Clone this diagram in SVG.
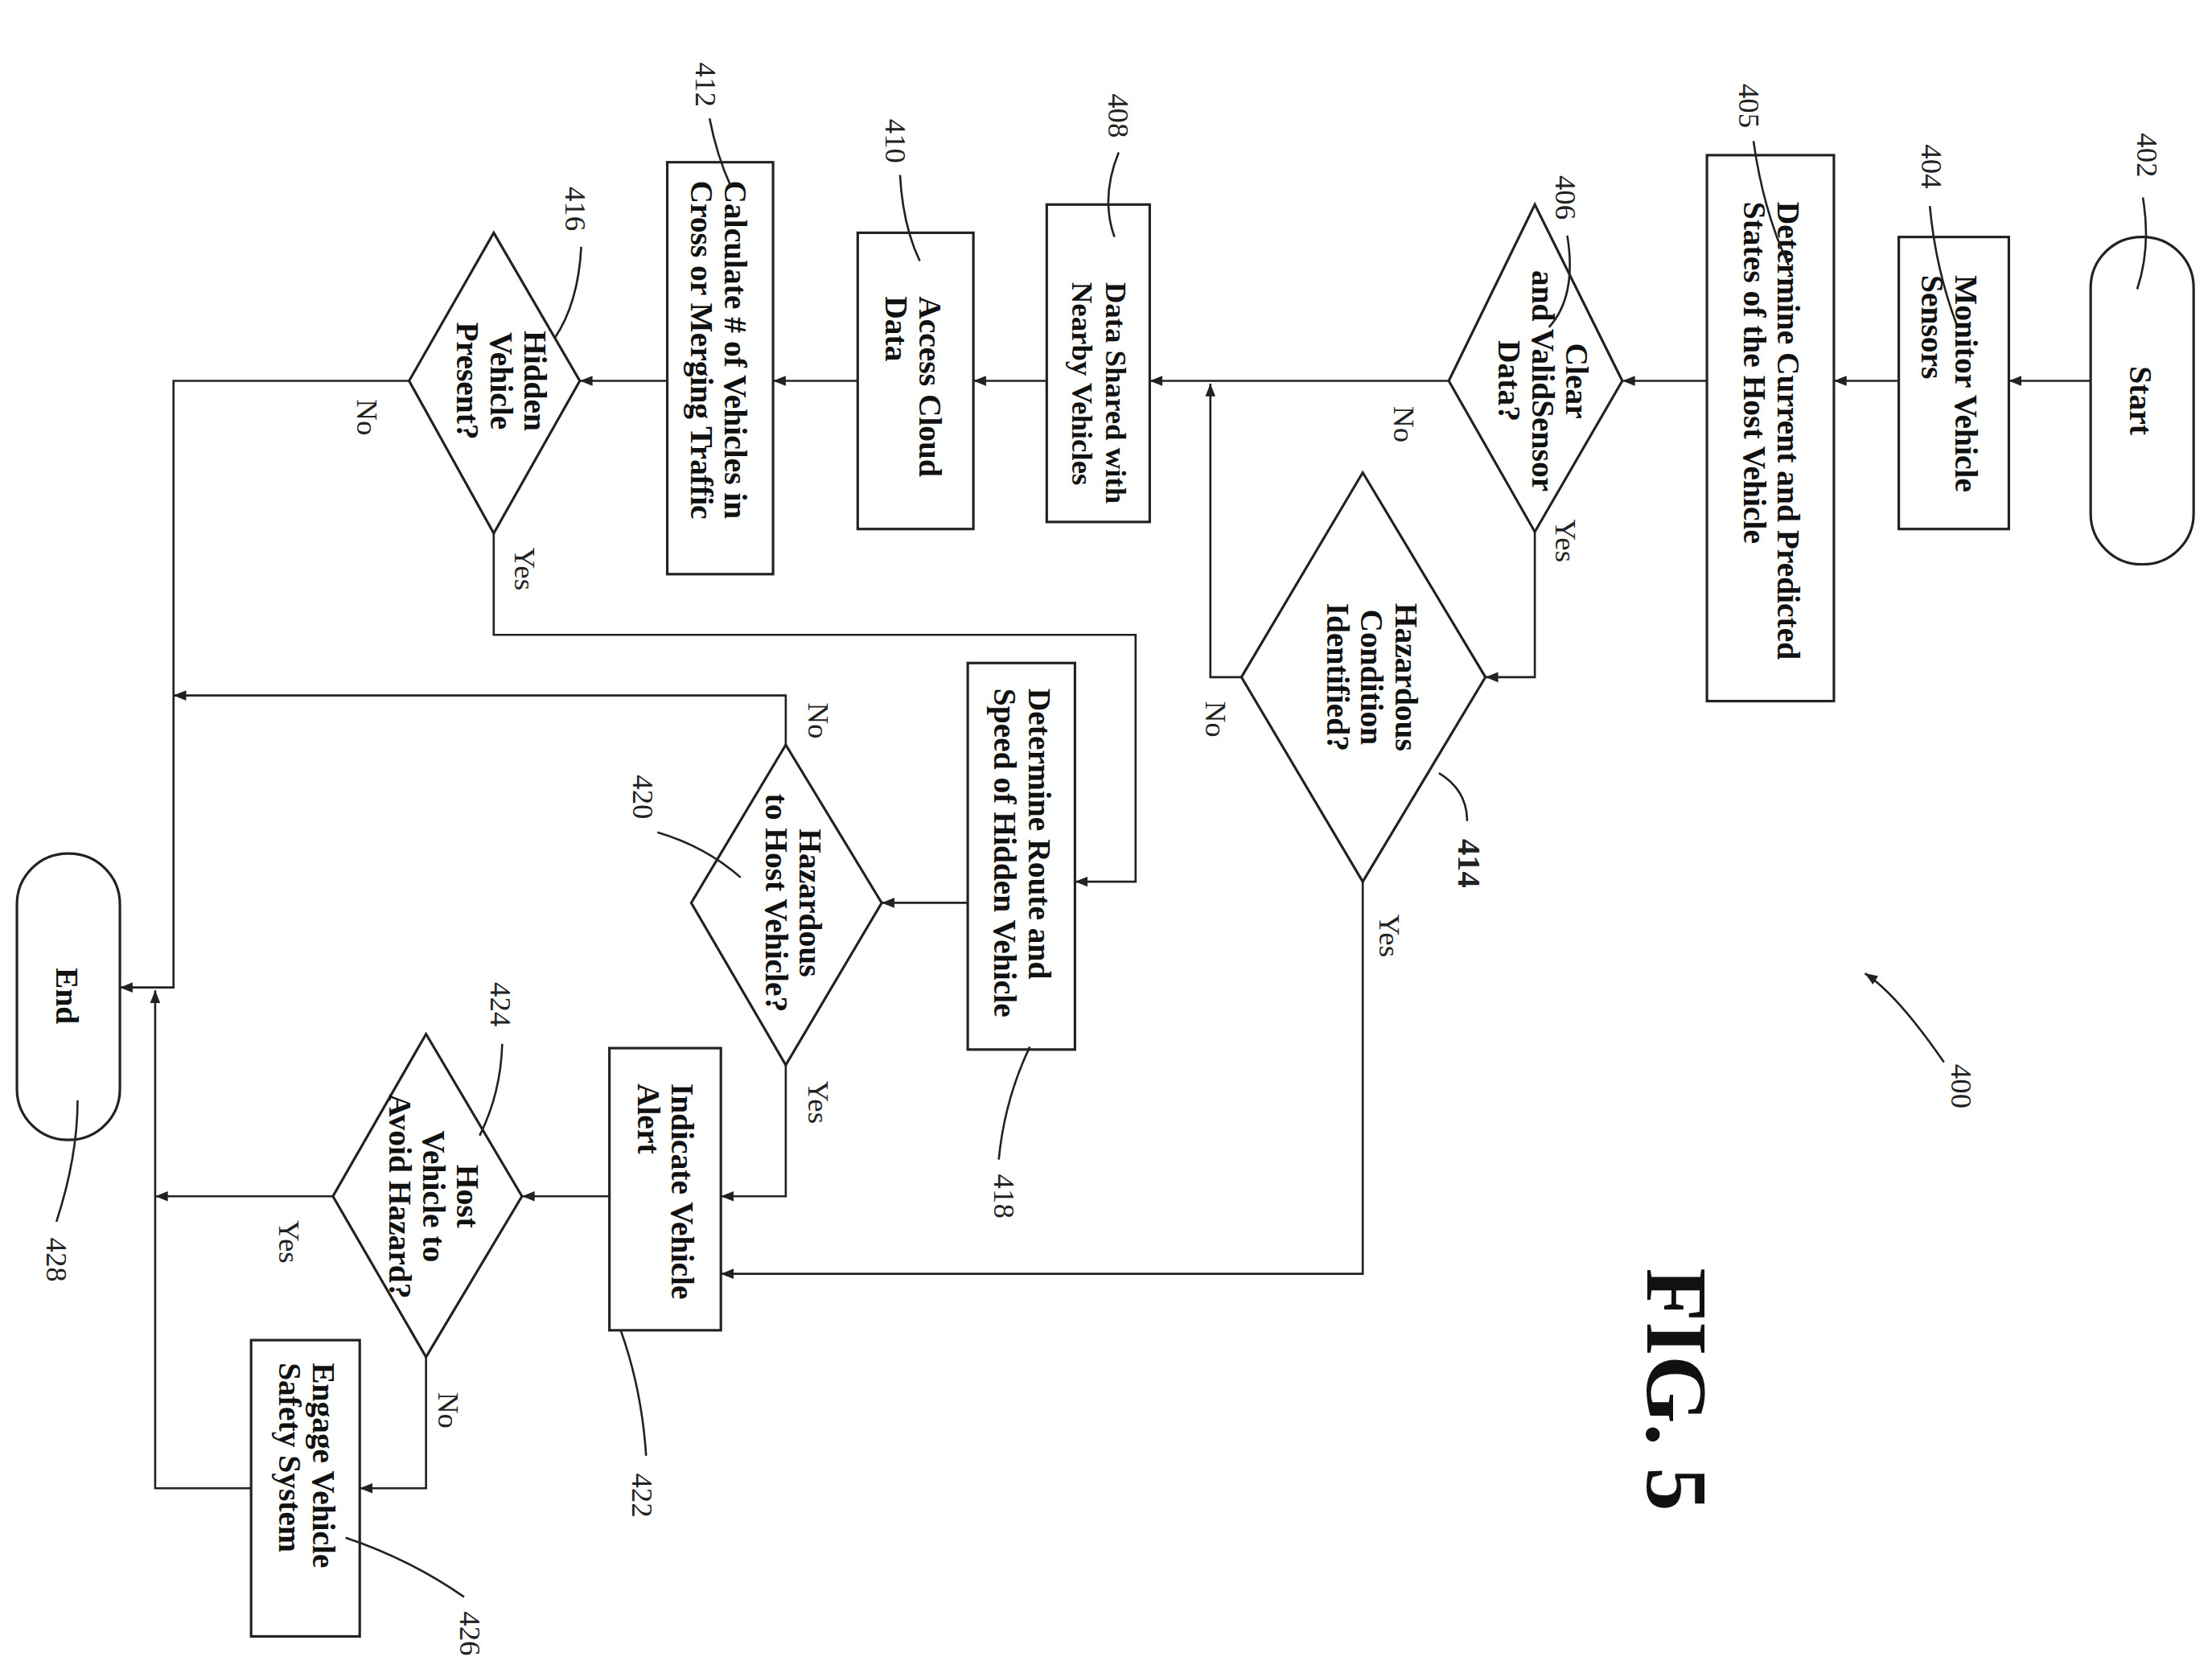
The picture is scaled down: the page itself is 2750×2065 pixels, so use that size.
<svg xmlns="http://www.w3.org/2000/svg" width="2750" height="2065" viewBox="0 0 2750 2065">
<defs>
<style>
.s{fill:none;stroke:#222;stroke-width:1.8}
.c{fill:none;stroke:#222;stroke-width:1.5}
.b{font-family:"Liberation Serif",serif;font-weight:bold;font-size:22.5px;fill:#111}
.n{font-family:"Liberation Serif",serif;font-size:21px;fill:#222}
.r{font-family:"Liberation Serif",serif;font-size:21px;fill:#222;text-anchor:middle}
.m{text-anchor:middle}
</style>
<marker id="a" viewBox="0 0 10 10" refX="10" refY="5" markerWidth="9" markerHeight="9" markerUnits="userSpaceOnUse" orient="auto">
<path d="M0,1 L10,5 L0,9 Z" fill="#222"/>
</marker>
</defs>
<rect width="2750" height="2065" fill="#fff"/>
<g transform="scale(1.7538)">
<g id="connectors">
<path class="c" d="M1482,270 H1424" marker-end="url(#a)"/>
<path class="c" d="M1346,270 H1300" marker-end="url(#a)"/>
<path class="c" d="M1210,270 H1150" marker-end="url(#a)"/>
<path class="c" d="M1027,270 H815" marker-end="url(#a)"/>
<path class="c" d="M742,270 H690" marker-end="url(#a)"/>
<path class="c" d="M608,270 H548" marker-end="url(#a)"/>
<path class="c" d="M473,270 H411" marker-end="url(#a)"/>
<path class="c" d="M1088,377 V480 H1053" marker-end="url(#a)"/>
<path class="c" d="M880,480 H858 V272" marker-end="url(#a)"/>
<path class="c" d="M966,625 V903 H511" marker-end="url(#a)"/>
<path class="c" d="M290,270 H123 V700 H85" marker-end="url(#a)"/>
<path class="c" d="M350,378 V450 H805 V625 H762" marker-end="url(#a)"/>
<path class="c" d="M686,640 H625" marker-end="url(#a)"/>
<path class="c" d="M557,528 V493 H123" marker-end="url(#a)"/>
<path class="c" d="M557,755 V848 H511" marker-end="url(#a)"/>
<path class="c" d="M432,848 H370" marker-end="url(#a)"/>
<path class="c" d="M236,848 H110" marker-end="url(#a)"/>
<path class="c" d="M302,962 V1055 H255" marker-end="url(#a)"/>
<path class="c" d="M178,1055 H110 V702" marker-end="url(#a)"/>
<g class="n">
<text transform="translate(988,288) rotate(90)">No</text>
<text transform="translate(1103,368) rotate(90)">Yes</text>
<text transform="translate(855,497) rotate(90)">No</text>
<text transform="translate(978,648) rotate(90)">Yes</text>
<text transform="translate(253,283) rotate(90)">No</text>
<text transform="translate(365,388) rotate(90)">Yes</text>
<text transform="translate(573,498) rotate(90)">No</text>
<text transform="translate(573,766) rotate(90)">Yes</text>
<text transform="translate(198,865) rotate(90)">Yes</text>
<text transform="translate(311,987) rotate(90)">No</text>
</g>
</g>
<g id="n402">
<rect class="s" x="1482" y="168" width="73" height="232" rx="36"/>
<text class="b m" transform="translate(1510,284) rotate(90)">Start</text>
</g>
<g id="n404">
<rect class="s" x="1346" y="168" width="78" height="207"/>
<text class="b" transform="translate(1386,195) rotate(90)">Monitor Vehicle</text>
<text class="b" transform="translate(1362,195) rotate(90)">Sensors</text>
</g>
<g id="n405">
<rect class="s" x="1210" y="110" width="90" height="387"/>
<text class="b" transform="translate(1260,143) rotate(90)">Determine Current and Predicted</text>
<text class="b" transform="translate(1236,143) rotate(90)">States of the Host Vehicle</text>
</g>
<g id="n406">
<path class="s" d="M1088,145 L1150,270 L1088,377 L1027,270 Z"/>
<text class="b m" transform="translate(1110,270) rotate(90)">Clear</text>
<text class="b m" transform="translate(1086,270) rotate(90)">and ValidSensor</text>
<text class="b m" transform="translate(1062,270) rotate(90)">Data?</text>
</g>
<g id="n414">
<path class="s" d="M966,335 L1053,480 L966,625 L880,480 Z"/>
<text class="b m" transform="translate(989,480) rotate(90)">Hazardous</text>
<text class="b m" transform="translate(965,480) rotate(90)">Condition</text>
<text class="b m" transform="translate(941,480) rotate(90)">Identified?</text>
</g>
<g id="n408">
<rect class="s" x="742" y="145" width="73" height="225"/>
<text class="b" style="font-size:21px" transform="translate(784,200) rotate(90)">Data Shared with</text>
<text class="b" style="font-size:21px" transform="translate(760,200) rotate(90)">Nearby Vehicles</text>
</g>
<g id="n410">
<rect class="s" x="608" y="165" width="82" height="210"/>
<text class="b" transform="translate(652,210) rotate(90)">Access Cloud</text>
<text class="b" transform="translate(628,210) rotate(90)">Data</text>
</g>
<g id="n412">
<rect class="s" x="473" y="115" width="75" height="292"/>
<text class="b" transform="translate(514,128) rotate(90)">Calculate # of Vehicles in</text>
<text class="b" transform="translate(490,128) rotate(90)">Cross or Merging Traffic</text>
</g>
<g id="n416">
<path class="s" d="M350,165 L411,270 L350,378 L290,270 Z"/>
<text class="b m" transform="translate(372,270) rotate(90)">Hidden</text>
<text class="b m" transform="translate(348,270) rotate(90)">Vehicle</text>
<text class="b m" transform="translate(324,270) rotate(90)">Present?</text>
</g>
<g id="n418">
<rect class="s" x="686" y="470" width="76" height="274"/>
<text class="b" transform="translate(729,488) rotate(90)">Determine Route and</text>
<text class="b" transform="translate(705,488) rotate(90)">Speed of Hidden Vehicle</text>
</g>
<g id="n420">
<path class="s" d="M557,528 L625,640 L557,755 L490,640 Z"/>
<text class="b m" transform="translate(567,640) rotate(90)">Hazardous</text>
<text class="b m" transform="translate(543,640) rotate(90)">to Host Vehicle?</text>
</g>
<g id="n422">
<rect class="s" x="432" y="743" width="79" height="200"/>
<text class="b" transform="translate(476,768) rotate(90)">Indicate Vehicle</text>
<text class="b" transform="translate(452,768) rotate(90)">Alert</text>
</g>
<g id="n424">
<path class="s" d="M302,733 L370,848 L302,962 L236,848 Z"/>
<text class="b m" transform="translate(324,848) rotate(90)">Host</text>
<text class="b m" transform="translate(300,848) rotate(90)">Vehicle to</text>
<text class="b m" transform="translate(276,848) rotate(90)">Avoid Hazard?</text>
</g>
<g id="n426">
<rect class="s" x="178" y="950" width="77" height="210"/>
<text class="b" transform="translate(222,966) rotate(90)">Engage Vehicle</text>
<text class="b" transform="translate(198,966) rotate(90)">Safety System</text>
</g>
<g id="n428">
<rect class="s" x="12" y="605" width="73" height="203" rx="36"/>
<text class="b m" transform="translate(40,706) rotate(90)">End</text>
</g>
<g id="refs">
<g class="c">
<path d="M1519,140 Q1525,175 1515,205"/>
<path d="M1368,146 Q1372,190 1387,230"/>
<path d="M1243,100 Q1250,150 1268,188"/>
<path d="M1111,167 Q1118,210 1098,232"/>
<path d="M793,108 Q780,140 790,168"/>
<path d="M638,124 Q640,160 652,185"/>
<path d="M503,84 Q508,110 518,132"/>
<path d="M412,175 Q410,215 393,240"/>
<path d="M466,590 Q500,600 525,622"/>
<path d="M356,740 Q355,775 340,805"/>
<path d="M708,822 Q712,780 730,742"/>
<path d="M458,1032 Q455,985 440,943"/>
<path d="M329,1132 Q290,1105 245,1090"/>
<path d="M40,866 Q55,820 55,780"/>
<path d="M1040,582 Q1040,560 1020,548"/>
<path d="M1378,753 Q1345,705 1322,690" marker-end="url(#a)"/>
</g>
<text class="r" transform="translate(1515,110) rotate(90)">402</text>
<text class="r" transform="translate(1362,118) rotate(90)">404</text>
<text class="r" transform="translate(1233,75) rotate(90)">405</text>
<text class="r" transform="translate(1103,140) rotate(90)">406</text>
<text class="r" transform="translate(786,82) rotate(90)">408</text>
<text class="r" transform="translate(628,100) rotate(90)">410</text>
<text class="r" transform="translate(493,60) rotate(90)">412</text>
<text class="r" transform="translate(401,148) rotate(90)">416</text>
<text class="r" transform="translate(449,565) rotate(90)">420</text>
<text class="r" transform="translate(348,712) rotate(90)">424</text>
<text class="r" transform="translate(705,848) rotate(90)">418</text>
<text class="r" transform="translate(448,1060) rotate(90)">422</text>
<text class="r" transform="translate(326,1158) rotate(90)">426</text>
<text class="r" transform="translate(33,893) rotate(90)">428</text>
<text class="r" transform="translate(1383,770) rotate(90)">400</text>
<text class="r" transform="translate(1034,612) rotate(90)" style="font-weight:bold;font-size:23px">414</text>
<text transform="translate(1168,985) rotate(90)" style="font-family:'Liberation Serif',serif;font-weight:bold;font-size:62px;text-anchor:middle;fill:#111">FIG. 5</text>
</g>
</g>
</svg>
